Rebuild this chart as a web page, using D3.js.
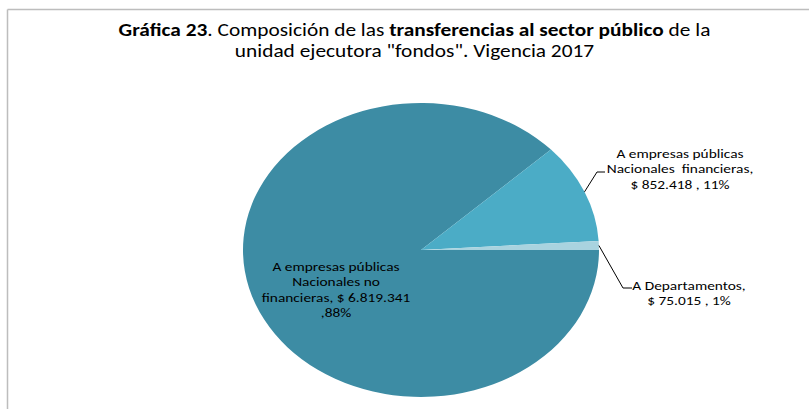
<!DOCTYPE html>
<html>
<head>
<meta charset="utf-8">
<script src="https://cdn.jsdelivr.net/npm/d3@7"></script>
<style>
  html, body { margin: 0; padding: 0; background: #fff; }
  svg { display: block; }
  text { font-family: Carlito, "Liberation Sans Narrow", "DejaVu Sans Condensed", sans-serif; fill: #000; white-space: pre; }
</style>
</head>
<body>
<svg id="chart" width="809" height="409"></svg>
<script>
const categories = [
  "A empresas públicas Nacionales no financieras",
  "A empresas públicas Nacionales  financieras",
  "A Departamentos"
];
const values = [6819341, 852418, 75015];
const valueLabels = ["$ 6.819.341", "$ 852.418", "$ 75.015"];
const percentLabels = ["88%", "11%", "1%"];
const colors = ["#3D8CA4", "#4BACC6", "#A9D3DF"];

const svg = d3.select("#chart");
const W = 809, H = 409;
const SX = 1.22; // horizontal stretch of the original picture

// frame
svg.append("line").attr("x1", 7.5).attr("y1", 9.5).attr("x2", W).attr("y2", 9.5)
  .attr("stroke", "#BDBDBD").attr("stroke-width", 1.5);
svg.append("line").attr("x1", 7.5).attr("y1", 9.5).attr("x2", 7.5).attr("y2", H)
  .attr("stroke", "#BDBDBD").attr("stroke-width", 1.5);

function textBlock(x, y0, dy, size, lines) {
  const t = svg.append("text")
    .attr("transform", `translate(${x},0) scale(${SX},1)`)
    .attr("text-anchor", "middle").attr("font-size", size);
  return lines.map((s, k) => {
    const ts = t.append("tspan").attr("x", 0).attr("y", y0 + k * dy);
    if (typeof s === "string") ts.text(s);
    else s.forEach(p => ts.append("tspan").attr("font-weight", p.b ? "bold" : null).text(p.t));
    return ts;
  });
}

// title
textBlock(414.5, 36, 21, 17.5, [
  [{ t: "Gráfica 23", b: true }, { t: ". Composición de las " },
   { t: "transferencias al sector público", b: true }, { t: " de la" }],
  "unidad ejecutora \"fondos\". Vigencia 2017"
]);

// pie
const cx = 421, cy = 250, rx = 178, ry = 147;
const pie = d3.pie().sort(null).value(d => d)
  .startAngle(Math.PI / 2).endAngle(Math.PI / 2 + 2 * Math.PI);
const arcs = pie(values);
const arc = d3.arc().innerRadius(0).outerRadius(rx);

const g = svg.append("g").attr("transform", `translate(${cx},${cy}) scale(1,${ry / rx})`);
g.selectAll("path").data(arcs).join("path")
  .attr("d", arc)
  .attr("fill", (d, i) => colors[i]);

function edgePoint(d) {
  const a = (d.startAngle + d.endAngle) / 2;
  return [cx + rx * Math.sin(a), cy - ry * Math.cos(a)];
}

// inside label for big slice
textBlock(336, 271, 15.5, 12.6,
  ["A empresas públicas", "Nacionales no", "financieras, " + valueLabels[0], "," + percentLabels[0]]);

// outside labels
const outside = [
  { i: 1, elbow: [597, 172], end: [605, 172], tx: 680, ty: 158,
    lines: ["A empresas públicas", "Nacionales  financieras,", valueLabels[1] + " , " + percentLabels[1]] },
  { i: 2, elbow: [623, 288], end: [632, 288], tx: 689, ty: 290,
    lines: ["A Departamentos,", valueLabels[2] + " , " + percentLabels[2]] }
];
outside.forEach(o => {
  const p = edgePoint(arcs[o.i]);
  svg.append("polyline")
    .attr("points", [p, o.elbow, o.end].map(q => q.join(",")).join(" "))
    .attr("fill", "none").attr("stroke", "#000").attr("stroke-width", 1);
  textBlock(o.tx, o.ty, 15.5, 12.6, o.lines);
});
</script>
</body>
</html>
